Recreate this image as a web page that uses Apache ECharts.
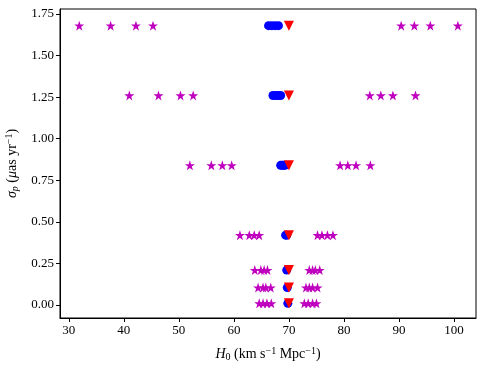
<!DOCTYPE html>
<html>
<head>
<meta charset="utf-8">
<script src="https://cdn.jsdelivr.net/npm/echarts@6/dist/echarts.min.js"></script>
<style>
  html, body { margin: 0; padding: 0; background: #fff; }
  #main { width: 485px; height: 368px; }
</style>
</head>
<body>
<div id="main"></div>
<script>
// sigma_p levels (one row of markers per level)
let sigmaRows = [1.68, 1.26, 0.84, 0.42, 0.21, 0.105, 0.01]
// magenta stars, left and right groups for each row
let starsLeft = [
    [31.9, 37.6, 42.2, 45.3],
    [41.0, 46.3, 50.3, 52.6],
    [52.0, 55.9, 57.9, 59.6],
    [61.1, 62.8, 63.7, 64.6],
    [63.8, 64.9, 65.5, 66.1],
    [64.4, 65.3, 65.8, 66.7],
    [64.6, 65.3, 66.0, 66.8]
]
let starsRight = [
    [90.4, 92.8, 95.7, 100.7],
    [84.7, 86.7, 88.9, 93.0],
    [79.3, 80.7, 82.2, 84.8],
    [75.2, 76.0, 77.0, 78.0],
    [73.7, 74.3, 74.8, 75.6],
    [73.1, 73.7, 74.3, 75.2],
    [72.8, 73.5, 74.3, 75.0]
]
// blue circles
let blueX = [
    [66.3, 66.9, 67.5, 68.1],
    [67.1, 67.6, 68.1, 68.5],
    [68.5, 68.8, 69.0, 69.3],
    [69.4, 69.6],
    [69.6],
    [69.7],
    [69.8]
]
// red triangles
let redX = [70.0, 70.0, 70.0, 70.0, 70.0, 70.0, 70.0]

let xTicks = [30, 40, 50, 60, 70, 80, 90, 100]
let yTicks = [0, 0.25, 0.5, 0.75, 1.0, 1.25, 1.5, 1.75]

function pairs(rows) {
    let out = []
    rows.forEach(function (xs, i) {
        xs.forEach(function (x) { out.push([x, sigmaRows[i]]) })
    })
    return out
}

let starData = pairs(starsLeft).concat(pairs(starsRight))
let blueData = pairs(blueX)
let redData = redX.map(function (x, i) { return [x, sigmaRows[i]] })

let starPath = 'path://M50,0 L61.8,35.1 L98.1,35.1 L68.8,56.7 L79.4,91.9 L50,70.2 L20.6,91.9 L31.2,56.7 L1.9,35.1 L38.2,35.1 Z'
let font = 'Liberation Serif'

var chartDom = document.getElementById('main')
var myChart = echarts.init(chartDom)
var option = {
    animation: false,
    grid: {
        left: 60,
        right: 9,
        top: 9,
        bottom: 50,
        outerBoundsMode: 'none',
        containLabel: false,
        show: true,
        borderColor: '#000',
        borderWidth: 1,
        backgroundColor: 'transparent'
    },
    xAxis: {
        type: 'value',
        min: 28.4,
        max: 104,
        name: '{i|H}{sub|0} (km s{sup|−1} Mpc{sup|−1})',
        nameLocation: 'middle',
        nameGap: 28,
        nameTextStyle: {
            fontFamily: font, fontSize: 14, color: '#000',
            rich: {
                i: { fontFamily: font, fontStyle: 'italic', fontSize: 14 },
                sub: { fontFamily: font, fontSize: 10, verticalAlign: 'bottom', padding: [6, 0, 0, 0] },
                sup: { fontFamily: font, fontSize: 10, verticalAlign: 'top', padding: [0, 0, 6, 0] }
            }
        },
        splitLine: { show: false },
        axisLine: { onZero: false, lineStyle: { color: '#000' } },
        axisTick: { customValues: xTicks, length: 4, lineStyle: { color: '#000' } },
        axisLabel: {
            customValues: xTicks,
            fontFamily: font, fontSize: 13, color: '#000', margin: 6
        }
    },
    yAxis: {
        type: 'value',
        min: -0.078,
        max: 1.78,
        name: '{i|σ}{sub|p} ({i|μ}as yr{sup|−1})',
        nameLocation: 'middle',
        nameGap: 33,
        nameTextStyle: {
            fontFamily: font, fontSize: 14, color: '#000',
            rich: {
                i: { fontFamily: font, fontStyle: 'italic', fontSize: 14 },
                sub: { fontFamily: font, fontStyle: 'italic', fontSize: 10, verticalAlign: 'bottom', padding: [6, 0, 0, 0] },
                sup: { fontFamily: font, fontSize: 10, verticalAlign: 'top', padding: [0, 0, 6, 0] }
            }
        },
        splitLine: { show: false },
        axisLine: { onZero: false, lineStyle: { color: '#000' } },
        axisTick: { customValues: yTicks, length: 4, lineStyle: { color: '#000' } },
        axisLabel: {
            customValues: yTicks,
            fontFamily: font, fontSize: 13, color: '#000', margin: 6,
            formatter: function (v) { return v.toFixed(2) }
        }
    },
    series: [
        {
            type: 'scatter',
            data: starData,
            symbol: starPath,
            symbolSize: 10,
            itemStyle: { color: '#bf00bf', opacity: 1 },
            z: 2
        },
        {
            type: 'scatter',
            data: blueData,
            symbol: 'circle',
            symbolSize: 9,
            itemStyle: { color: '#0000ff', opacity: 1 },
            z: 3
        },
        {
            type: 'scatter',
            data: redData,
            symbol: 'triangle',
            symbolRotate: 180,
            symbolSize: [10, 10],
            itemStyle: { color: '#ff0000', opacity: 1 },
            z: 4
        }
    ]
}
option && myChart.setOption(option)
</script>
</body>
</html>
